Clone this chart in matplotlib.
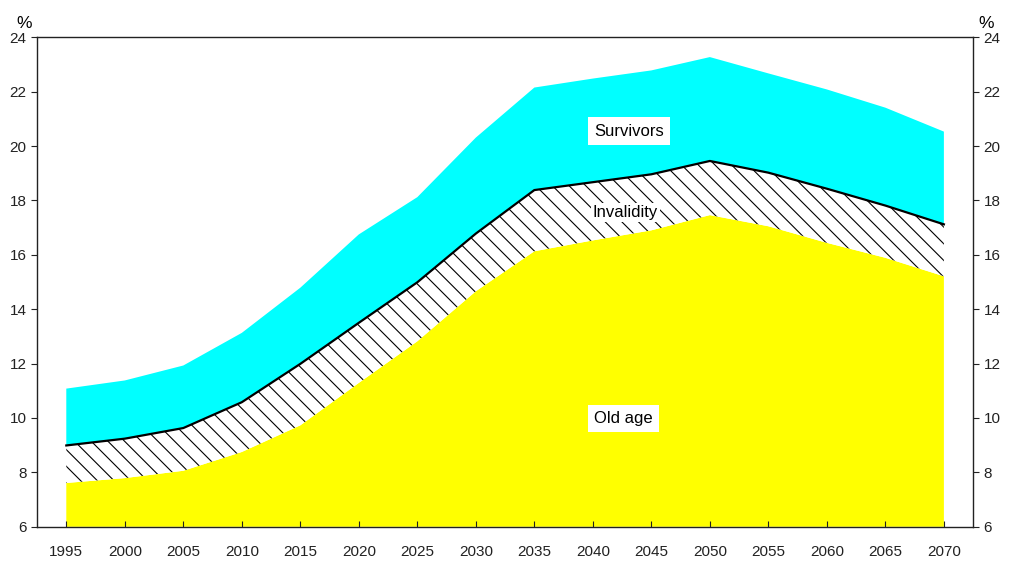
import numpy as np
import matplotlib
matplotlib.use("Agg")
import matplotlib.pyplot as plt

plt.rcParams['font.family'] = ['Liberation Sans', 'DejaVu Sans']
plt.rcParams['hatch.linewidth'] = 0.8

# Pension spending by type, % (cumulative levels)
years = [1995, 2000, 2005, 2010, 2015, 2020, 2025, 2030,
         2035, 2040, 2045, 2050, 2055, 2060, 2065, 2070]
old_age = [7.61, 7.79, 8.06, 8.75, 9.73, 11.29, 12.82, 14.66,
           16.13, 16.53, 16.90, 17.46, 17.05, 16.44, 15.89, 15.21]
invalidity_top = [8.99, 9.24, 9.63, 10.58, 11.99, 13.50, 14.99, 16.78,
                  18.38, 18.67, 18.96, 19.45, 19.02, 18.43, 17.81, 17.12]
survivors_top = [11.08, 11.38, 11.93, 13.13, 14.79, 16.75, 18.12, 20.31,
                 22.15, 22.48, 22.78, 23.27, 22.67, 22.08, 21.41, 20.53]
yticks = [6, 8, 10, 12, 14, 16, 18, 20, 22, 24]

fig = plt.figure(figsize=(10.12, 5.64), dpi=100)
ax = fig.add_axes([0.0366, 0.066, 0.925, 0.868])

ymin = 6
ax.fill_between(years, ymin, old_age, facecolor='#ffff00', edgecolor='none', zorder=2)
ax.fill_between(years, old_age, invalidity_top, facecolor='white', edgecolor='black',
                hatch='\\\\', linewidth=0, zorder=2)
ax.fill_between(years, invalidity_top, survivors_top, facecolor='#00ffff',
                edgecolor='none', zorder=2)
ax.plot(years, invalidity_top, color='black', lw=1.6, zorder=3)

ax.set_axisbelow(False)
ax.set_xlim(1992.5, 2072.5)
ax.set_ylim(6, 24)
ax.set_xticks(years)
ax.set_yticks(yticks)
ax.tick_params(axis='x', direction='in', length=4, labelsize=11, pad=13, colors='#222222')
ax.tick_params(axis='y', direction='out', length=4, labelsize=11, left=True, right=True,
               labelleft=True, labelright=True, colors='#222222')
for s in ax.spines.values():
    s.set_color('#222222')
    s.set_linewidth(1.0)
    s.set_zorder(4)

ax.text(-0.014, 1.029, '%', transform=ax.transAxes, fontsize=12.5, ha='center', va='center')
ax.text(1.014, 1.029, '%', transform=ax.transAxes, fontsize=12.5, ha='center', va='center')

box = dict(facecolor='white', edgecolor='none', pad=4.5)
ax.text(2043.1, 20.55, 'Survivors', fontsize=12, ha='center', va='center', bbox=box, zorder=5)
ax.text(2042.8, 17.55, 'Invalidity', fontsize=12, ha='center', va='center',
        bbox=dict(facecolor='white', edgecolor='none', pad=1.5), zorder=5)
ax.text(2042.6, 9.98, 'Old age', fontsize=12, ha='center', va='center', bbox=box, zorder=5)

fig.savefig('out.png', dpi=100)
